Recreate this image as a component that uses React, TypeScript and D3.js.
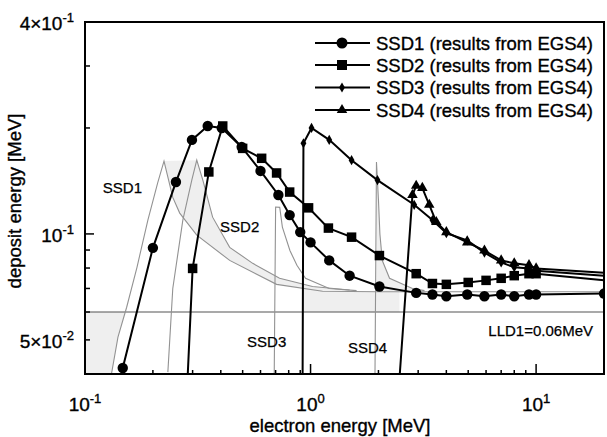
import React from "react";
import * as d3 from "d3";

// ---------- data (electron energy [MeV], deposit energy [MeV]) ----------
const ssd1E = [0.147, 0.2, 0.253, 0.298, 0.35, 0.404, 0.495, 0.6, 0.72, 0.808, 0.9, 1.0, 1.21, 1.49, 2.02, 2.94, 3.47, 4.0, 4.95, 5.9, 7.0, 8.0, 9.3, 10, 20];
const ssd1D = [0.0416, 0.0913, 0.1404, 0.185, 0.2026, 0.2, 0.1766, 0.151, 0.129, 0.1131, 0.1012, 0.0946, 0.0841, 0.0761, 0.0709, 0.068, 0.0673, 0.0665, 0.0673, 0.0665, 0.0673, 0.0665, 0.0673, 0.0673, 0.0677];

const ssd2E = [0.285, 0.3, 0.354, 0.408, 0.5, 0.607, 0.707, 0.808, 0.98, 1.2, 1.52, 2.02, 2.94, 3.47, 4.0, 5.0, 6.0, 7.0, 8.0, 9.3, 10, 20];
const ssd2D = [0.039, 0.0798, 0.15, 0.2026, 0.175, 0.164, 0.149, 0.1315, 0.1186, 0.1039, 0.0979, 0.0868, 0.0771, 0.0723, 0.0719, 0.0728, 0.0738, 0.0748, 0.0761, 0.0771, 0.0771, 0.0738];

const ssd3E = [0.922, 0.93, 1.01, 1.21, 1.52, 1.98, 2.88, 3.47, 4.0, 4.95, 5.9, 7.0, 8.0, 9.3, 10, 20];
const ssd3D = [0.039, 0.181, 0.2, 0.185, 0.162, 0.1422, 0.121, 0.1095, 0.1005, 0.0959, 0.0885, 0.083, 0.0804, 0.0798, 0.0786, 0.0761];

const ssd4E = [2.48, 2.83, 2.94, 3.13, 3.36, 3.61, 4.0, 4.95, 5.9, 7.0, 8.0, 9.3, 10, 20];
const ssd4D = [0.039, 0.129, 0.137, 0.1351, 0.121, 0.1081, 0.1012, 0.0946, 0.0897, 0.0841, 0.0825, 0.0815, 0.0798, 0.0776];

// thin gray (calculated) curves
const g1E = [0.131, 0.14, 0.153, 0.17, 0.19, 0.21, 0.224, 0.245, 0.263, 0.313, 0.438, 0.707, 1.13, 2.02, 20];
const g1D = [0.04, 0.0509, 0.0619, 0.0804, 0.1095, 0.1397, 0.161, 0.127, 0.1146, 0.0992, 0.0841, 0.0719, 0.0687, 0.0685, 0.0685];

const g2E = [0.233, 0.245, 0.2715, 0.2975, 0.313, 0.333, 0.368, 0.438, 0.554, 0.729, 1.02, 1.49];
const g2D = [0.0405, 0.07, 0.1095, 0.1422, 0.162, 0.1422, 0.1116, 0.0916, 0.0825, 0.0748, 0.0709, 0.0693];

const g3E = [0.69, 0.7, 0.73, 0.75, 0.81, 0.87, 0.95, 1.21, 1.6];
const g3D = [0.039, 0.1192, 0.119, 0.1046, 0.0897, 0.0815, 0.0748, 0.07, 0.069];

const g4E = [1.93, 1.96, 2.0, 2.03, 2.08, 2.24, 2.83, 3.2];
const g4D = [0.039, 0.16, 0.125, 0.1, 0.084, 0.0748, 0.07, 0.069];

const LLD = 0.06;

const legendLabels = [
  "SSD1 (results from EGS4)",
  "SSD2 (results from EGS4)",
  "SSD3 (results from EGS4)",
  "SSD4 (results from EGS4)",
];
const curveNames = ["SSD1", "SSD2", "SSD3", "SSD4"];
const xMajorVals = [0.1, 1, 10];
const xMajorExp = ["-1", "0", "1"];
const yMajorVals = [0.4, 0.1, 0.05];
const yMajorMant = ["4\u00d7", "", "5\u00d7"];
const yMajorExp = ["-1", "-1", "-2"];
const xTitle = "electron energy [MeV]";
const yTitle = "deposit energy [MeV]";
const lldLabel = "LLD1=0.06MeV";

// ---------- layout ----------
const W = 607, H = 437;
const L = 85, R = 604, T = 22, B = 374;
const FONT = "'Liberation Sans', Arial, Helvetica, sans-serif";
const TS = 0.35; // text stroke for the heavier scanned look

type P = [number, number];
const zip = (a: number[], b: number[]): P[] => a.map((v, i) => [v, b[i]] as P);

function interpLL(pts: P[], e: number): number {
  for (let i = 0; i < pts.length - 1; i++) {
    const [e0, d0] = pts[i], [e1, d1] = pts[i + 1];
    if (e >= e0 && e <= e1) {
      const t = (Math.log(e) - Math.log(e0)) / (Math.log(e1) - Math.log(e0));
      return Math.exp(Math.log(d0) + t * (Math.log(d1) - Math.log(d0)));
    }
  }
  return pts[pts.length - 1][1];
}

type Kind = "circle" | "square" | "diamond" | "triangle";

function Marker({ kind, cx, cy, legend }: { kind: Kind; cx: number; cy: number; legend?: boolean }) {
  if (kind === "circle") return <circle cx={cx} cy={cy} r={legend ? 5.5 : 5.2} fill="#000" />;
  if (kind === "square") {
    const s = legend ? 10 : 9.5;
    return <rect x={cx - s / 2} y={cy - s / 2} width={s} height={s} fill="#000" />;
  }
  const sym = kind === "diamond" ? d3.symbolDiamond : d3.symbolTriangle;
  const size = kind === "diamond" ? 30 : 48;
  const p = d3.symbol().type(sym).size(size)() || "";
  return <path d={p} transform={`translate(${cx},${cy})`} fill="#000" />;
}

export default function App() {
  const x = d3.scaleLog().domain([0.1, 20]).range([L, R]);
  const y = d3.scaleLog().domain([0.04, 0.4]).range([B, T]);
  const line = d3.line<P>().x((d) => x(d[0])).y((d) => y(d[1]));
  const poly = (pts: P[]) => line(pts) + "Z";

  const series: { pts: P[]; kind: Kind; markEnd: boolean }[] = [
    { pts: zip(ssd1E, ssd1D), kind: "circle", markEnd: true },
    { pts: zip(ssd2E, ssd2D), kind: "square", markEnd: false },
    { pts: zip(ssd3E, ssd3D), kind: "diamond", markEnd: false },
    { pts: zip(ssd4E, ssd4D), kind: "triangle", markEnd: false },
  ];
  const grays: P[][] = [zip(g1E, g1D), zip(g2E, g2D), zip(g3E, g3D), zip(g4E, g4D)];
  const [g1, g2, , g4] = grays;

  // ---- shaded regions built from the gray curves ----
  const [xMin] = x.domain();
  const [yMin] = y.domain();
  // A: below LLD, left of SSD1 gray rise
  let eCross = g1[0][0];
  const lowPts: P[] = [];
  for (let i = 0; i < g1.length - 1; i++) {
    const [e0, d0] = g1[i], [e1, d1] = g1[i + 1];
    if (d0 < LLD) lowPts.push(g1[i]);
    if (d0 < LLD && d1 >= LLD) {
      const t = (Math.log(LLD) - Math.log(d0)) / (Math.log(d1) - Math.log(d0));
      eCross = Math.exp(Math.log(e0) + t * (Math.log(e1) - Math.log(e0)));
      break;
    }
  }
  const shadeA: P[] = [[xMin, yMin], [xMin, LLD], [eCross, LLD], ...lowPts.slice().reverse()];

  // B+C: valley between SSD1/SSD2 gray peaks and region under SSD2 gray tail
  const p1 = d3.maxIndex(g1, (d) => d[1]);
  const p2 = d3.maxIndex(g2, (d) => d[1]);
  const g2End = g2[g2.length - 1][0];
  const upperBC = g2.slice(p2);
  const lowerBC: P[] = [
    ...g1.filter((d, i) => i >= p1 && d[0] < g2End),
    [g2End, interpLL(g1, g2End)],
  ];
  const shadeBC: P[] = [...upperBC, ...lowerBC.reverse()];

  // D: under SSD4 gray tail
  const p4 = d3.maxIndex(g4, (d) => d[1]);
  const g4Tail = g4.slice(p4);
  const g4End = g4Tail[g4Tail.length - 1][0];
  const shadeD: P[] = [...g4Tail, [g4End, interpLL(g1, g4End)], [g4Tail[0][0], interpLL(g1, g4Tail[0][0])]];

  // E: band between flat gray and LLD between SSD3 and SSD4 onsets
  const eA = ssd3E[0], eB = ssd4E[0];
  const bandTop: P[] = [[eA, interpLL(g1, eA)], ...g1.filter((d) => d[0] > eA && d[0] < eB), [eB, interpLL(g1, eB)]];
  const shadeE: P[] = [...bandTop, [eB, LLD], [eA, LLD]];

  const shades = [shadeA, shadeBC, shadeD, shadeE];

  // ---- ticks ----
  const isMajor = (v: number) => Math.abs(Math.log10(v) - Math.round(Math.log10(v))) < 1e-9;
  const xTicks = x.ticks().filter((v) => x(v) > L + 0.5 && x(v) < R - 0.5);
  const yTicks = y.ticks().filter((v) => y(v) < B - 0.5 && y(v) > T + 0.5);

  // curve-name label anchors (data coordinates)
  const nameAnchors: P[] = [[0.12, 0.1307], [0.397, 0.1012], [0.523, 0.0477], [1.466, 0.0459]];
  const legendRows = [43, 65, 87.5, 110];
  const kinds: Kind[] = ["circle", "square", "diamond", "triangle"];

  const txt = { fill: "#000", stroke: "#000", strokeWidth: TS };

  return (
    <svg
      width={W}
      height={H}
      viewBox={`0 0 ${W} ${H}`}
      style={{ position: "absolute", left: 0, top: 0, background: "#fff" }}
      fontFamily={FONT}
    >
      <defs>
        <clipPath id="plot">
          <rect x={L} y={T} width={R - L} height={B - T} />
        </clipPath>
      </defs>
      <rect x={0} y={0} width={W} height={H} fill="#fff" />

      <g clipPath="url(#plot)">
        {shades.map((s, i) => (
          <path key={"s" + i} d={poly(s)} fill="#efefef" stroke="none" />
        ))}
        <line x1={L} x2={R} y1={y(LLD)} y2={y(LLD)} stroke="#555" strokeWidth={1.1} />
        {grays.map((g, i) => (
          <path key={"g" + i} d={line(g) || ""} fill="none" stroke="#929292" strokeWidth={1.1} />
        ))}
        {series.map((s, i) => (
          <path key={"l" + i} d={line(s.pts) || ""} fill="none" stroke="#000" strokeWidth={2} />
        ))}
        {series.map((s, i) =>
          s.pts
            .filter((d) => d[1] >= 0.04 && (s.markEnd || d[0] <= 10))
            .map((d, j) => <Marker key={`m${i}-${j}`} kind={s.kind} cx={x(d[0])} cy={y(d[1])} />)
        )}
      </g>

      {/* frame */}
      <rect x={L} y={T} width={R - L} height={B - T} fill="none" stroke="#000" strokeWidth={2} />

      {/* x ticks */}
      {xTicks.map((v, i) => (
        <line key={"xt" + i} x1={x(v)} x2={x(v)} y1={B} y2={B - (isMajor(v) ? 10 : 4)} stroke="#000" strokeWidth={1.5} />
      ))}
      {/* y ticks */}
      {yTicks.map((v, i) => (
        <line key={"yt" + i} x1={L} x2={L + (isMajor(v) ? 9 : 5)} y1={y(v)} y2={y(v)} stroke="#000" strokeWidth={1.5} />
      ))}

      {/* x tick labels */}
      {xMajorVals.map((v, i) => (
        <text key={"xl" + i} x={x(v)} y={411} textAnchor="middle" fontSize={19} {...txt}>
          10
          <tspan dy={-8} fontSize={13}>
            {xMajorExp[i]}
          </tspan>
        </text>
      ))}
      {/* y tick labels */}
      {yMajorVals.map((v, i) => (
        <text key={"yl" + i} x={74} y={y(v) + 8} textAnchor="end" fontSize={19} {...txt}>
          {yMajorMant[i]}10
          <tspan dy={-8} fontSize={13}>
            {yMajorExp[i]}
          </tspan>
        </text>
      ))}

      {/* axis titles */}
      <text x={340} y={432} textAnchor="middle" fontSize={18.5} {...txt}>
        {xTitle}
      </text>
      <text transform="translate(21,201) rotate(-90)" textAnchor="middle" fontSize={18.5} {...txt}>
        {yTitle}
      </text>

      {/* curve names */}
      {curveNames.map((n, i) => (
        <text key={"cn" + i} x={x(nameAnchors[i][0])} y={y(nameAnchors[i][1])} fontSize={15} {...txt} strokeWidth={0.25}>
          {n}
        </text>
      ))}
      <text x={593} y={y(0.0513)} textAnchor="end" fontSize={15} {...txt} strokeWidth={0.25}>
        {lldLabel}
      </text>

      {/* legend */}
      {legendLabels.map((lab, i) => (
        <g key={"lg" + i}>
          <line x1={315} x2={370} y1={legendRows[i]} y2={legendRows[i]} stroke="#000" strokeWidth={2} />
          <Marker kind={kinds[i]} cx={342} cy={legendRows[i]} legend />
          <text x={376} y={legendRows[i] + 6.5} fontSize={18.5} {...txt}>
            {lab}
          </text>
        </g>
      ))}
    </svg>
  );
}
